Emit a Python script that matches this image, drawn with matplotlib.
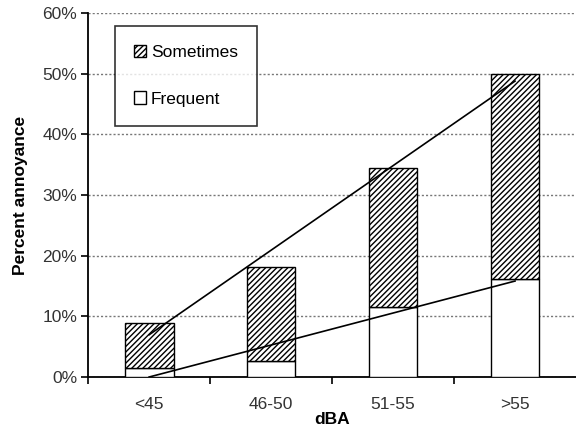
import numpy as np
import matplotlib
matplotlib.use('Agg')
import matplotlib.pyplot as plt
from matplotlib.patches import Patch

plt.rcParams['font.family'] = ['Liberation Sans', 'DejaVu Sans']
plt.rcParams['hatch.linewidth'] = 1.0

categories = ['<45', '46-50', '51-55', '>55']
frequent = [1.5, 2.6, 11.5, 16.1]
total = [9.0, 18.1, 34.4, 50.0]
sometimes = [t - f for t, f in zip(total, frequent)]

x = np.arange(len(categories))

fig = plt.figure(figsize=(5.76, 4.32), dpi=100)
ax = fig.add_axes([0.153, 0.127, 0.847, 0.843])

ax.bar(x, frequent, width=0.4, color='white', edgecolor='black', linewidth=1.0, zorder=3)
ax.bar(x, sometimes, width=0.4, bottom=frequent, color='white', edgecolor='black',
       hatch='//////', linewidth=1.0, zorder=3)

# linear trend lines
for series in (total, frequent):
    k, b = np.polyfit(x, series, 1)
    ax.plot(x, k * x + b, color='black', linewidth=1.2, zorder=4)

ax.set_xlim(-0.5, 3.5)
ax.set_ylim(0, 60)
ax.set_yticks(np.arange(0, 61, 10))
ax.set_yticklabels([f'{v}%' for v in range(0, 61, 10)], fontsize=12.5, color='#333333')
ax.yaxis.grid(True, linestyle=(0, (1.5, 1.5)), color='#777777', linewidth=1.0, zorder=0)

ax.set_xticks(x)
ax.set_xticklabels(categories, fontsize=12.5, color='#333333')
ax.tick_params(axis='x', which='major', length=0, pad=14)
ax.set_xticks(np.arange(-0.5, 3.5, 1.0), minor=True)
ax.tick_params(axis='x', which='minor', length=5, width=1.2, direction='out')
ax.tick_params(axis='y', length=5, width=1.2, direction='out', pad=3)

for side in ('top', 'right'):
    ax.spines[side].set_visible(False)
ax.spines['left'].set_linewidth(1.3)
ax.spines['bottom'].set_linewidth(1.3)

ax.set_xlabel('dBA', fontsize=12.5, fontweight='bold', labelpad=0)
ax.set_ylabel('Percent annoyance', fontsize=12.5, fontweight='bold', labelpad=10)

handles = [Patch(facecolor='white', edgecolor='black', hatch='//////', label='Sometimes'),
           Patch(facecolor='white', edgecolor='black', label='Frequent')]
leg = ax.legend(handles=handles, loc='upper left', bbox_to_anchor=(0.2, 0.94),
                bbox_transform=fig.transFigure, fontsize=12.5, frameon=True, fancybox=False,
                handlelength=0.7, handleheight=0.7, handletextpad=0.25,
                labelspacing=1.8, borderpad=1.1, borderaxespad=0)
leg.get_frame().set_edgecolor('black')
leg.get_frame().set_linewidth(1.2)

fig.savefig('out.png', dpi=100)
